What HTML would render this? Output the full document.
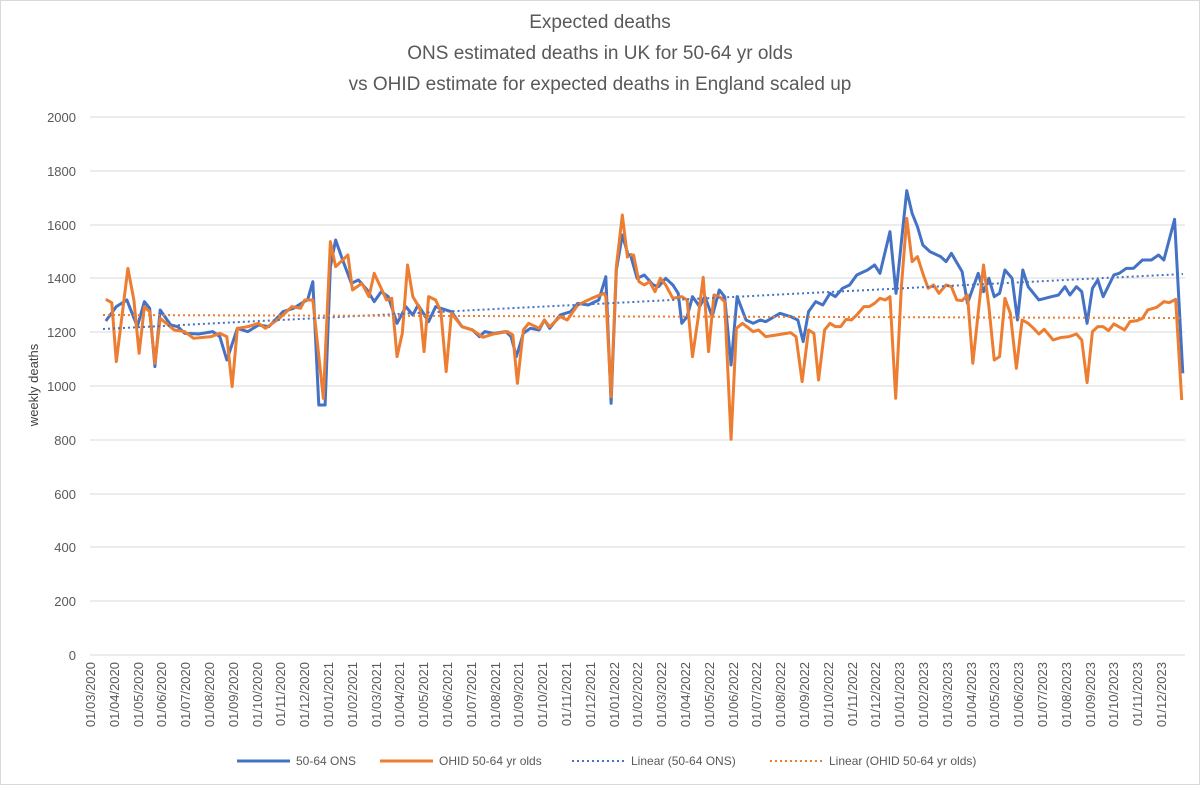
<!DOCTYPE html>
<html><head><meta charset="utf-8"><style>
body{margin:0;background:#fff}
svg{display:block;font-family:"Liberation Sans",sans-serif}
</style></head><body>
<svg width="1200" height="785" viewBox="0 0 1200 785">
<rect x="0.5" y="0.5" width="1199" height="784" fill="#fff" stroke="#d9d9d9"/>
<g fill="#595959" font-size="19" text-anchor="middle">
<text x="600" y="28">Expected deaths</text>
<text x="600" y="59">ONS estimated deaths in UK for 50-64 yr olds</text>
<text x="600" y="90">vs OHID estimate for expected deaths in England scaled up</text>
</g>
<g stroke="#d9d9d9" stroke-width="1">
<line x1="90" x2="1185" y1="117" y2="117"/><line x1="90" x2="1185" y1="171" y2="171"/>
<line x1="90" x2="1185" y1="225" y2="225"/><line x1="90" x2="1185" y1="278" y2="278"/>
<line x1="90" x2="1185" y1="332" y2="332"/><line x1="90" x2="1185" y1="386" y2="386"/>
<line x1="90" x2="1185" y1="440" y2="440"/><line x1="90" x2="1185" y1="494" y2="494"/>
<line x1="90" x2="1185" y1="547" y2="547"/><line x1="90" x2="1185" y1="601" y2="601"/>
<line x1="90" x2="1185" y1="655" y2="655"/>
</g>
<g fill="#595959" font-size="13" text-anchor="end">
<text x="76" y="122">2000</text><text x="76" y="176">1800</text><text x="76" y="230">1600</text>
<text x="76" y="283">1400</text><text x="76" y="337">1200</text><text x="76" y="391">1000</text>
<text x="76" y="445">800</text><text x="76" y="499">600</text><text x="76" y="552">400</text>
<text x="76" y="606">200</text><text x="76" y="660">0</text>
</g>
<text transform="translate(38,385) rotate(-90)" fill="#404040" font-size="13" text-anchor="middle">weekly deaths</text>
<g fill="#595959" font-size="13" text-anchor="end">
<text transform="translate(95,662) rotate(-90)">01/03/2020</text><text transform="translate(119,662) rotate(-90)">01/04/2020</text>
<text transform="translate(143,662) rotate(-90)">01/05/2020</text><text transform="translate(166,662) rotate(-90)">01/06/2020</text>
<text transform="translate(190,662) rotate(-90)">01/07/2020</text><text transform="translate(214,662) rotate(-90)">01/08/2020</text>
<text transform="translate(238,662) rotate(-90)">01/09/2020</text><text transform="translate(262,662) rotate(-90)">01/10/2020</text>
<text transform="translate(285,662) rotate(-90)">01/11/2020</text><text transform="translate(309,662) rotate(-90)">01/12/2020</text>
<text transform="translate(333,662) rotate(-90)">01/01/2021</text><text transform="translate(357,662) rotate(-90)">01/02/2021</text>
<text transform="translate(381,662) rotate(-90)">01/03/2021</text><text transform="translate(404,662) rotate(-90)">01/04/2021</text>
<text transform="translate(428,662) rotate(-90)">01/05/2021</text><text transform="translate(452,662) rotate(-90)">01/06/2021</text>
<text transform="translate(476,662) rotate(-90)">01/07/2021</text><text transform="translate(500,662) rotate(-90)">01/08/2021</text>
<text transform="translate(523,662) rotate(-90)">01/09/2021</text><text transform="translate(547,662) rotate(-90)">01/10/2021</text>
<text transform="translate(571,662) rotate(-90)">01/11/2021</text><text transform="translate(595,662) rotate(-90)">01/12/2021</text>
<text transform="translate(619,662) rotate(-90)">01/01/2022</text><text transform="translate(642,662) rotate(-90)">01/02/2022</text>
<text transform="translate(666,662) rotate(-90)">01/03/2022</text><text transform="translate(690,662) rotate(-90)">01/04/2022</text>
<text transform="translate(714,662) rotate(-90)">01/05/2022</text><text transform="translate(738,662) rotate(-90)">01/06/2022</text>
<text transform="translate(761,662) rotate(-90)">01/07/2022</text><text transform="translate(785,662) rotate(-90)">01/08/2022</text>
<text transform="translate(809,662) rotate(-90)">01/09/2022</text><text transform="translate(833,662) rotate(-90)">01/10/2022</text>
<text transform="translate(857,662) rotate(-90)">01/11/2022</text><text transform="translate(880,662) rotate(-90)">01/12/2022</text>
<text transform="translate(904,662) rotate(-90)">01/01/2023</text><text transform="translate(928,662) rotate(-90)">01/02/2023</text>
<text transform="translate(952,662) rotate(-90)">01/03/2023</text><text transform="translate(976,662) rotate(-90)">01/04/2023</text>
<text transform="translate(999,662) rotate(-90)">01/05/2023</text><text transform="translate(1023,662) rotate(-90)">01/06/2023</text>
<text transform="translate(1047,662) rotate(-90)">01/07/2023</text><text transform="translate(1071,662) rotate(-90)">01/08/2023</text>
<text transform="translate(1095,662) rotate(-90)">01/09/2023</text><text transform="translate(1118,662) rotate(-90)">01/10/2023</text>
<text transform="translate(1142,662) rotate(-90)">01/11/2023</text><text transform="translate(1166,662) rotate(-90)">01/12/2023</text>
</g>
<!-- blue series -->
<g fill="none" stroke="#4472C4" stroke-width="3" stroke-linejoin="round">
<polyline vector-effect="non-scaling-stroke" transform="translate(90,160) scale(0.3509,0.3333)" points="45,483 75,440 105,420 135,500 155,425 170,445 185,620 200,450 230,495 250,500 270,520 310,522 350,515 370,530 390,600 420,505 450,515 480,495 510,500 550,455 580,445 610,425 620,420 635,365 652,735 670,735 685,320 700,240 720,300 745,370 765,360 790,390 810,425 830,395 850,410 875,490 900,440 920,465 935,435 965,485 985,440 1030,455 1060,500 1090,510 1110,530 1125,515 1150,520 1185,515 1200,530 1215,590 1235,520 1255,505 1280,510 1295,480 1310,505 1340,465 1370,455 1390,430 1420,435 1450,420 1470,350 1485,730 1500,330 1517,225 1535,290"/>
<polyline vector-effect="non-scaling-stroke" transform="translate(630,160) scale(0.3571,0.3333)" points="0,280 20,355 40,345 65,375 80,380 100,355 120,375 135,400 145,490 160,470 175,410 195,440 210,410 230,470 250,390 265,410 283,615 300,410 325,480 345,490 365,480 380,485 420,460 450,470 470,480 485,545 500,455 520,425 540,435 560,400 575,410 595,385 615,375 635,345 665,330 685,315 700,340 728,215 745,400 775,92 790,160 805,200 820,255 840,275 870,290 885,305 900,280 930,335 945,430 975,340 990,395 1005,355 1020,410 1035,400 1050,330 1070,355 1085,480 1100,330 1115,380 1145,420 1180,410 1200,405 1218,380 1232,405 1250,380 1265,395 1280,490 1295,385 1310,360 1325,410 1355,345 1370,340 1390,325 1410,325 1435,300 1460,300 1480,285 1495,300 1525,178 1548,640"/>
</g>
<!-- orange series -->
<g fill="none" stroke="#ED7D31" stroke-width="3" stroke-linejoin="round">
<polyline vector-effect="non-scaling-stroke" transform="translate(90,160) scale(0.3509,0.3333)" points="45,418 62,428 75,605 108,325 125,420 140,580 155,440 170,455 185,610 200,475 240,510 270,515 295,535 345,530 370,520 390,530 405,680 420,505 450,500 480,490 500,505 540,475 575,440 600,445 612,420 635,420 665,715 685,245 700,320 735,285 748,390 775,370 795,410 810,340 845,420 860,415 875,590 890,520 905,315 920,410 940,445 952,575 965,410 985,420 1000,455 1015,635 1030,460 1060,500 1090,510 1120,532 1150,522 1190,515 1205,525 1218,670 1235,510 1250,490 1280,505 1295,480 1310,500 1340,470 1360,480 1390,435 1430,415 1465,400 1470,410 1485,710 1500,320 1517,165 1532,295"/>
<polyline vector-effect="non-scaling-stroke" transform="translate(630,160) scale(0.3571,0.3333)" points="0,285 10,285 25,365 40,375 55,365 70,395 85,355 100,375 120,415 145,410 160,420 175,590 190,480 205,352 220,575 235,405 250,410 265,425 283,838 298,505 315,490 345,515 360,510 380,530 410,525 450,518 465,530 482,665 500,510 515,520 528,660 545,510 560,490 575,500 590,500 605,478 620,480 635,465 655,440 670,440 685,430 700,415 715,420 728,410 744,715 760,380 775,175 790,305 805,290 820,340 835,385 850,375 865,400 885,375 900,380 915,420 930,422 945,405 960,610 975,460 990,315 1005,440 1020,600 1035,590 1050,415 1065,460 1082,625 1098,480 1115,490 1130,505 1145,522 1160,508 1185,540 1205,533 1230,530 1250,522 1265,540 1280,668 1295,515 1310,500 1325,500 1340,512 1355,492 1385,510 1400,485 1420,482 1435,475 1450,450 1475,442 1495,425 1510,428 1528,418 1545,720"/>
</g>
<!-- trend lines -->
<line x1="103" y1="329" x2="1183" y2="274" stroke="#4472C4" stroke-width="2" stroke-dasharray="2,3"/>
<line x1="103" y1="315" x2="1183" y2="318" stroke="#ED7D31" stroke-width="2" stroke-dasharray="2,3"/>
<!-- legend -->
<g font-size="12" fill="#595959">
<line x1="237" y1="761" x2="290" y2="761" stroke="#4472C4" stroke-width="3"/>
<text x="296" y="765">50-64 ONS</text>
<line x1="380" y1="761" x2="433" y2="761" stroke="#ED7D31" stroke-width="3"/>
<text x="439" y="765">OHID 50-64 yr olds</text>
<line x1="572" y1="761" x2="625" y2="761" stroke="#4472C4" stroke-width="2" stroke-dasharray="2,3"/>
<text x="631" y="765">Linear (50-64 ONS)</text>
<line x1="770" y1="761" x2="823" y2="761" stroke="#ED7D31" stroke-width="2" stroke-dasharray="2,3"/>
<text x="829" y="765">Linear (OHID 50-64 yr olds)</text>
</g>
</svg>
</body></html>
